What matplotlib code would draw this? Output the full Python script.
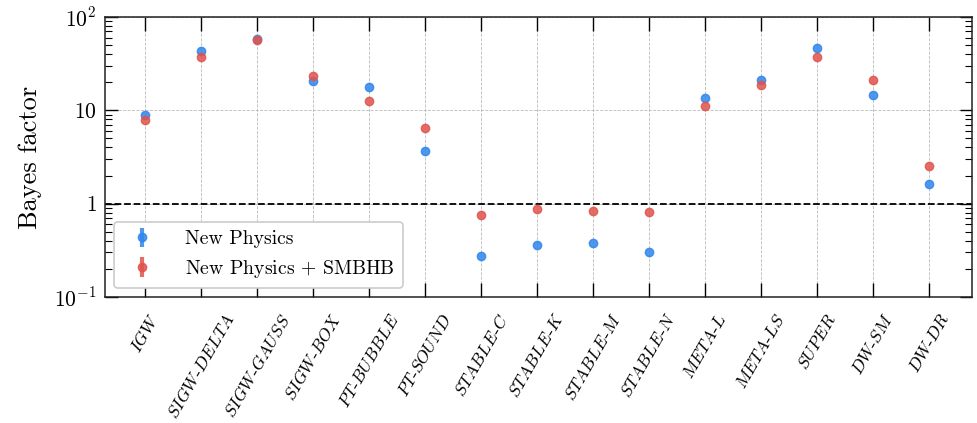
import numpy as np
import matplotlib
matplotlib.use("Agg")
import matplotlib.pyplot as plt
from matplotlib.ticker import FixedLocator, FixedFormatter, LogLocator, NullFormatter

plt.rcParams["font.family"] = "serif"
plt.rcParams["font.serif"] = ["cmr10", "DejaVu Serif"]
plt.rcParams["mathtext.fontset"] = "cm"
plt.rcParams["axes.formatter.use_mathtext"] = True

# ── data ──
models = ["IGW", "SIGW-DELTA", "SIGW-GAUSS", "SIGW-BOX", "PT-BUBBLE", "PT-SOUND",
          "STABLE-C", "STABLE-K", "STABLE-M", "STABLE-N", "META-L", "META-LS",
          "SUPER", "DW-SM", "DW-DR"]
bf_np = [8.8, 43.7, 58.0, 20.7, 17.9, 3.67, 0.273, 0.359, 0.374, 0.302,
         13.5, 21.2, 46.0, 14.7, 1.61]
bf_np_smbhb = [7.9, 37.0, 56.5, 23.2, 12.6, 6.5, 0.748, 0.875, 0.833, 0.82,
               11.0, 18.6, 37.0, 21.0, 2.52]

BLUE = "#2f86eb"
RED = "#e0544c"

x = np.arange(len(models))

fig = plt.figure(figsize=(9.78, 4.23), dpi=100)
ax = fig.add_axes([0.1074, 0.298, 0.8865, 0.6618])

ax.errorbar(x, bf_np, yerr=0, fmt="o", color=BLUE, ms=6, elinewidth=3,
            alpha=0.85, capsize=0, label="New Physics", zorder=3)
ax.errorbar(x, bf_np_smbhb, yerr=0, fmt="o", color=RED, ms=6, elinewidth=3,
            alpha=0.85, capsize=0, label="New Physics $+$ SMBHB", zorder=3)

ax.axhline(1, color="k", ls="--", lw=1.3, zorder=2)

ax.set_yscale("log")
ax.set_ylim(0.1, 100)
ax.set_xlim(-0.72, 14.77)

ax.yaxis.set_major_locator(FixedLocator([0.1, 1, 10, 100]))
ax.yaxis.set_major_formatter(FixedFormatter([r"$10^{-1}$", r"$1$", r"$10$", r"$10^{2}$"]))
ax.yaxis.set_minor_locator(LogLocator(base=10, subs=np.arange(2, 10)))
ax.yaxis.set_minor_formatter(NullFormatter())

ax.set_xticks(x)
ax.set_xticklabels([r"$\mathit{" + m.replace("-", r"}$-$\mathit{") + "}$" for m in models],
                   rotation=60, ha="center", fontsize=12.5)

ax.tick_params(which="both", direction="in", top=True, right=True)
ax.tick_params(axis="x", which="major", length=10, width=1, pad=10)
ax.tick_params(axis="y", which="major", length=9, width=1, labelsize=15.5, pad=6)
ax.tick_params(axis="y", which="minor", length=5, width=0.8)

ax.grid(True, which="major", ls="--", lw=0.6, color="#bbbbbb", zorder=0)
for s in ax.spines.values():
    s.set_linewidth(1.1)
    s.set_color("#222222")

ax.set_ylabel("Bayes factor", fontsize=19, labelpad=9)

leg = ax.legend(loc="lower left", fontsize=14.2, handletextpad=1.2, framealpha=1,
                edgecolor="#cccccc", fancybox=True, borderaxespad=0.45)
leg.get_frame().set_linewidth(1.2)

fig.savefig("out.png", dpi=100)
